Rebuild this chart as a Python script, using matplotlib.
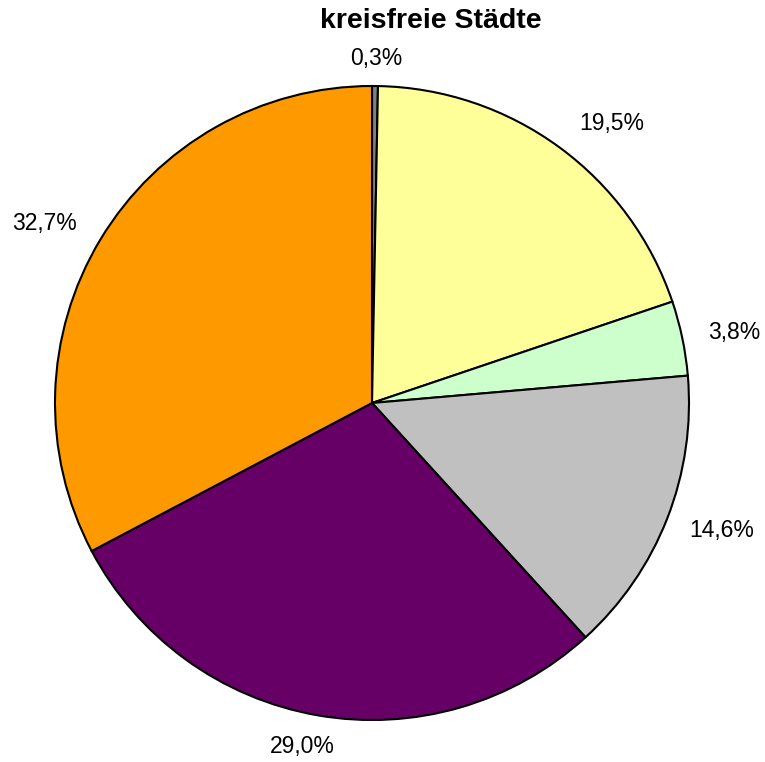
import matplotlib.pyplot as plt

plt.rcParams['font.family'] = ['Liberation Sans', 'DejaVu Sans']

# Anteile (%), im Uhrzeigersinn ab 12 Uhr
values = [0.3, 19.5, 3.8, 14.6, 29.0, 32.7]
labels = ['0,3%', '19,5%', '3,8%', '14,6%', '29,0%', '32,7%']
colors = ['#808080', '#FFFF99', '#CCFFCC', '#C0C0C0', '#660066', '#FF9900']
# label positions (pie radius = 1)
label_pos = [(0.013, 1.088), (0.757, 0.883), (1.142, 0.221),
             (1.104, -0.401), (-0.221, -1.085), (-1.032, 0.565)]

fig = plt.figure(figsize=(7.65, 7.62), dpi=100)
ax = fig.add_axes([55 / 765, 42 / 762, 634 / 765, 634 / 762])

ax.pie(values, colors=colors, startangle=90, counterclock=False, radius=1,
       wedgeprops=dict(edgecolor='black', linewidth=1.5))
ax.set_aspect('auto')
ax.set_xlim(-1, 1)
ax.set_ylim(-1, 1)
ax.axis('off')

for (x, y), t in zip(label_pos, labels):
    ax.text(x, y, t, ha='center', va='center', fontsize=16.5, clip_on=False)

fig.text(431 / 765, 1 - 21 / 762, 'kreisfreie Städte', ha='center', va='center',
         fontsize=20.5, fontweight='bold')

fig.savefig('out.png', dpi=100)
